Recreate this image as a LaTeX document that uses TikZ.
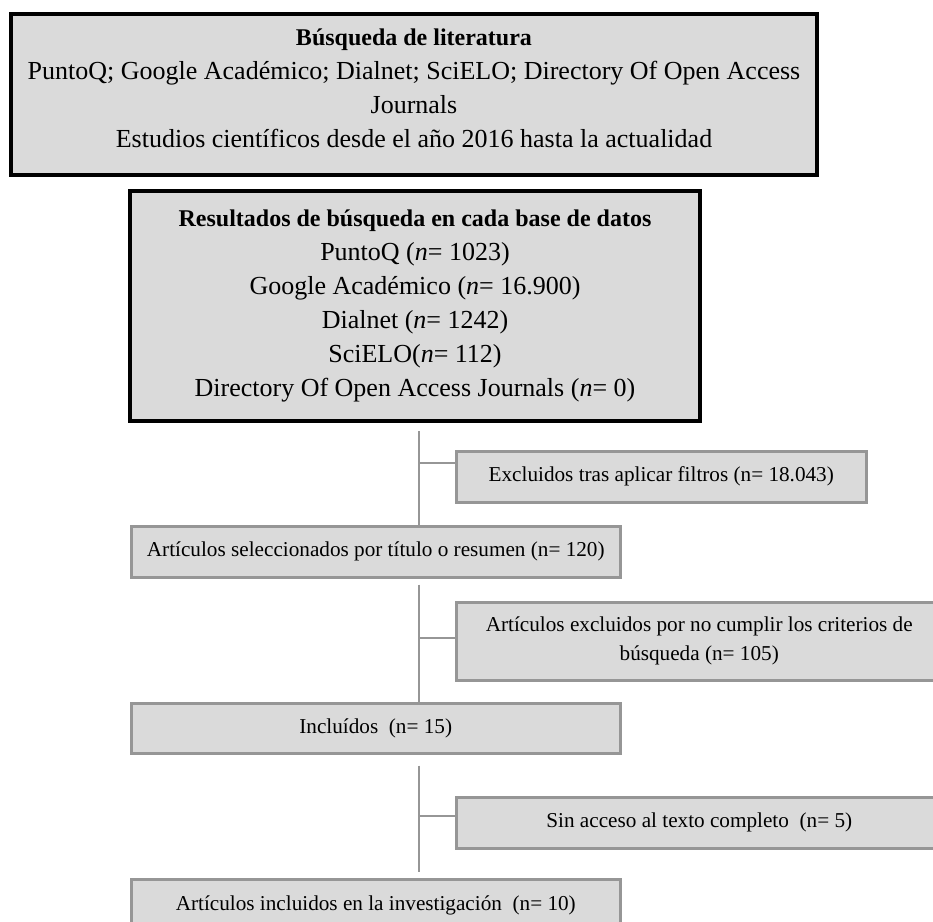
\documentclass[tikz,border=0pt]{standalone}
\usepackage{fontspec}
\setmainfont{Liberation Serif}
\usetikzlibrary{calc}

\begin{document}
\begin{tikzpicture}[
    x=1pt, y=-1pt,
    bigbox/.style={rectangle, draw=black, line width=4pt, fill=boxgray, anchor=north west, align=center, inner sep=0pt, font=\fontsize{26}{34}\selectfont},
    smallbox/.style={rectangle, draw=linegray, line width=2.5pt, fill=boxgray, anchor=north west, align=center, inner sep=0pt, font=\fontsize{21.2}{29}\selectfont},
    link/.style={draw=linegray, line width=2pt},
]
\definecolor{boxgray}{RGB}{218,218,218}
\definecolor{linegray}{RGB}{150,150,150}

\useasboundingbox (0,0) rectangle (933,921);
\clip (0,0) rectangle (933,921);

% Search
\node[bigbox, minimum width=806pt, minimum height=161pt] (search-box) at (9,12) {
    {\fontsize{24}{34}\selectfont\bfseries Búsqueda de literatura}\\
    PuntoQ; Google Académico; Dialnet; SciELO; Directory Of Open Access\\
    Journals\\
    Estudios científicos desde el año 2016 hasta la actualidad\\[-22pt]
};

% Results per database
\node[bigbox, minimum width=570pt, minimum height=230pt] (results-box) at (128,189) {
    {\fontsize{24}{34}\selectfont\bfseries Resultados de búsqueda en cada base de datos}\\
    PuntoQ (\textit{n}= 1023)\\
    Google Académico (\textit{n}= 16.900)\\
    Dialnet (\textit{n}= 1242)\\
    SciELO(\textit{n}= 112)\\
    Directory Of Open Access Journals (\textit{n}= 0)
};

% Screening
\node[smallbox, minimum width=410pt, minimum height=51pt] (excl-filters) at (455,450) {Excluidos tras aplicar filtros (n= 18.043)};
\node[smallbox, minimum width=489pt, minimum height=51pt] (sel-title) at (130,525) {Artículos seleccionados por título o resumen (n= 120)};
\node[smallbox, minimum width=486pt, minimum height=78pt] (excl-criteria) at (455,601) {
    Artículos excluidos por no cumplir los criterios de\\
    búsqueda (n= 105)
};
\node[smallbox, minimum width=489pt, minimum height=50pt] (incl) at (130,702) {Incluídos~~(n= 15)};
\node[smallbox, minimum width=486pt, minimum height=51pt] (excl-access) at (455,796) {Sin acceso al texto completo~~(n= 5)};
\node[smallbox, minimum width=489pt, minimum height=52pt] (final-incl) at (130,878) {Artículos incluidos en la investigación~~(n= 10)};

% Connectors
\coordinate (spine) at (419,0);
\draw[link] ([yshift=-8pt]results-box.south -| spine) -- (sel-title.north -| spine);
\draw[link] ([yshift=14pt]excl-filters.west) -- ([yshift=14pt]excl-filters.west -| spine);
\draw[link] ([yshift=-6pt]sel-title.south -| spine) -- (incl.north -| spine);
\draw[link] ([yshift=3pt]excl-criteria.west) -- ([yshift=3pt]excl-criteria.west -| spine);
\draw[link] ([yshift=-11pt]incl.south -| spine) -- ([yshift=6pt]final-incl.north -| spine);
\draw[link] ([yshift=7pt]excl-access.west) -- ([yshift=7pt]excl-access.west -| spine);

\end{tikzpicture}
\end{document}
